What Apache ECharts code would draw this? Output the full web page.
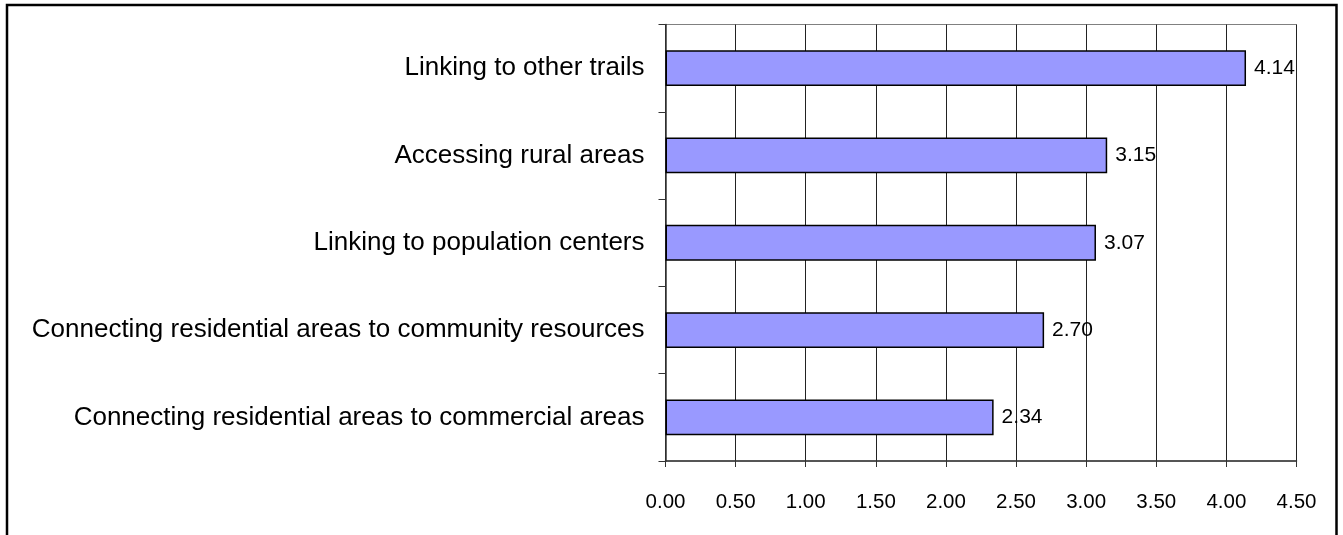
<!DOCTYPE html>
<html>
<head>
<meta charset="utf-8">
<script src="https://cdn.jsdelivr.net/npm/echarts@6/dist/echarts.min.js"></script>
<style>
html,body{margin:0;padding:0;background:#fff;}
#chart{width:1343px;height:535px;}
</style>
</head>
<body>
<div id="chart"></div>
<script>
// Data (bottom to top as drawn by category axis)
const categories = [
  "Connecting residential areas to commercial areas",
  "Connecting residential areas to community resources",
  "Linking to population centers",
  "Accessing rural areas",
  "Linking to other trails"
];
const values = [2.34, 2.70, 3.07, 3.15, 4.14];
const xMin = 0, xMax = 4.5, xStep = 0.5;

const chart = echarts.init(document.getElementById('chart'), null, {renderer: 'canvas'});
const FONT = '"Liberation Sans", Arial, sans-serif';
chart.setOption({
  animation: false,
  backgroundColor: '#fff',
  graphic: [{
    type: 'rect',
    shape: {x: 7, y: 5, width: 1329.5, height: 600},
    style: {fill: 'none', stroke: '#000', lineWidth: 2.5},
    z: 100
  }],
  grid: {
    left: 665.5, right: 46.5, top: 24.5, bottom: 74,
    show: true, borderColor: '#808080', borderWidth: 1, backgroundColor: 'transparent'
  },
  xAxis: {
    type: 'value', min: xMin, max: xMax, interval: xStep,
    axisLine: {show: true, lineStyle: {color: '#333', width: 1.5}},
    axisTick: {show: true, length: 6, lineStyle: {color: '#333'}},
    axisLabel: {
      color: '#000', fontFamily: FONT, fontSize: 20.5, margin: 31,
      formatter: v => v.toFixed(2)
    },
    splitLine: {show: true, lineStyle: {color: '#222', width: 1}}
  },
  yAxis: {
    type: 'category', data: categories,
    axisLine: {show: true, lineStyle: {color: '#333', width: 1.5}},
    axisTick: {show: true, length: 7, lineStyle: {color: '#333'}},
    axisLabel: {color: '#000', fontFamily: FONT, fontSize: 26, margin: 21},
    splitLine: {show: false}
  },
  series: [{
    type: 'bar',
    data: values,
    barWidth: '41%',
    itemStyle: {color: '#9999FF', borderColor: '#000', borderWidth: 1.5},
    label: {
      show: true, position: 'right', distance: 8,
      color: '#000', fontFamily: FONT, fontSize: 21,
      formatter: p => p.value.toFixed(2)
    }
  }]
});
</script>
</body>
</html>
